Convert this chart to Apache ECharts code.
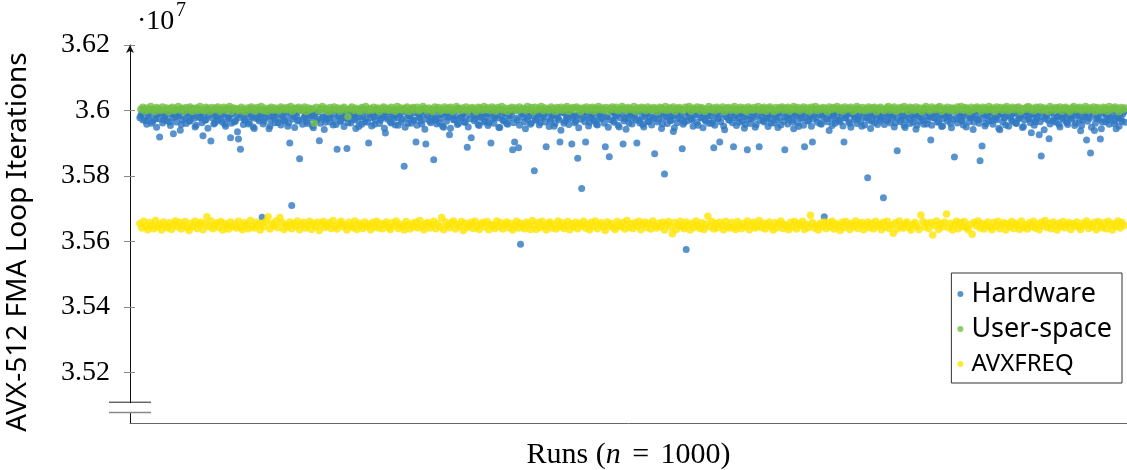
<!DOCTYPE html>
<html>
<head>
<meta charset="utf-8">
<script src="https://cdn.jsdelivr.net/npm/echarts@6/dist/echarts.min.js"></script>
<style>
  html, body { margin: 0; background: #fff; }
  #chart { width: 1127px; height: 470px; }
</style>
</head>
<body>
<div id="chart"></div>
<script>
// loop iterations per run, in thousands (36003 = 3.6003e7)
// Hardware, odd runs 1, 3, 5, ...
const hardwareOdd = [
  35978,35992,36003,35969,35985,35998,35961,36004,35974,35989,35919,35996,35972,35983,36001,35965,35990,35929,35980,35999,
  35987,35957,36002,35976,35993,35968,36005,35984,35950,35997,35979,35991,35923,35970,36003,35986,35907,35995,35962,35981,
  35999,35973,35988,35958,36004,35977,35917,35992,35966,35985,35913,35882,35998,35971,35990,35959,36002,35980,35945,35994,
  35975,35989,35674,35967,36001,35983,35953,35996,35978,35991,35963,36004,35986,35970,35998,35952,35901,35710,35982,35993,
  35968,35853,36000,35976,35989,35960,35997,35984,35947,35992,35973,35908,36003,35981,35964,35995,35977,35988,35956,36001,
  35882,35985,35969,35994,35979,35884,35999,35962,35987,35974,35991,35951,36004,35982,35966,35996,35901,35978,35990,35958,
  36002,35984,35971,35993,35946,35980,35997,35965,35988,35976,36000,35955,35986,35973,35830,35995,35961,35983,36003,35970,
  35904,35992,35978,35959,35998,35898,35985,35967,35990,35850,35975,36001,35963,35987,35949,35994,35980,35926,35996,35972,
  35983,35957,36004,35977,35991,35965,35888,35999,35917,35986,35974,35993,35954,35981,36002,35968,35989,35962,35901,35995,
  35979,35987,35948,36000,35971,35992,35960,35984,35997,35880,35904,35976,35886,35592,35990,35966,36003,35982,35958,35994,
  35816,35973,35988,35963,35999,35980,35889,35992,35969,35985,35952,36001,35977,35904,35995,35961,35987,35974,35998,35898,
  35983,35967,35854,35990,35762,35979,35904,35996,35964,35986,35972,36004,35956,35989,35976,35993,35889,35981,35859,35997,
  35968,35984,35992,35950,36002,35898,35975,35988,35962,35995,35979,35986,35901,35970,35999,35957,35983,35991,35966,36003,
  35978,35868,35987,35973,35994,35959,35806,35982,35996,35969,35985,35947,36001,35976,35990,35883,35964,35576,35993,35980,
  35972,35998,35986,35955,36004,35979,35991,35967,35984,35995,35961,35886,35988,35975,35904,35999,35953,35982,35993,35970,
  35987,35889,35978,36002,35964,35990,35981,35958,35880,35996,35974,35985,35949,36000,35889,35983,35969,35992,35977,35988,
  35962,35997,35980,35971,35994,35956,36003,35880,35986,35973,35990,35965,35998,35982,35951,35988,35976,35889,35995,35968,
  35984,35904,35992,35979,36001,35960,35987,35676,35974,35996,35983,35954,35990,35970,35999,35966,35985,35904,35977,35993,
  35961,35989,35981,36004,35973,35986,35952,35995,35978,35795,35991,35967,35984,35998,35957,35982,35975,35734,35993,35969,
  35988,36002,35980,35963,35877,35996,35972,35985,35948,35991,35977,35999,35965,35986,35955,35983,35994,35971,36001,35959,
  35982,35910,35990,35976,35997,35966,35984,35953,35992,35979,35987,35961,36003,35858,35974,35995,35981,35968,35989,35950,
  35996,35978,35985,35964,35999,35972,35847,35892,35988,35960,35994,35982,35969,36002,35976,35987,35941,35991,35979,35956,
  35997,35984,35970,35993,35962,36000,35977,35989,35951,35985,35996,35973,35932,35990,35966,35982,35926,35861,35998,35975,
  35987,35914,35993,35968,36004,35980,35958,35991,35974,35986,35963,35999,35978,35992,35954,35984,35995,35938,35970,35988,
  35910,35981,35870,35996,35939,35976,35989,35913,35965,35993,35982,35972,36001,35985,35960,35944,35978,35990,35967,35997
]
// Hardware, even runs 2, 4, 6, ...
const hardwareEven = [
  35985,35971,35996,35958,35979,36002,35967,35988,35949,35975,35993,35962,35981,35969,35999,35954,35977,35990,35965,35983,35940,35972,35997,35960,35986,
  35968,35991,35976,35955,36003,35980,35963,35987,35972,35946,35994,35978,35959,35984,35970,36000,35966,35989,35952,35974,35982,35961,35998,35969,35935,
  35979,35988,35957,35973,35995,35964,35984,35950,35976,36001,35968,35986,35959,35978,35992,35944,35971,35983,35963,35997,35975,35956,35989,35967,35980,
  35962,35993,35974,35948,35985,35970,36004,35958,35981,35966,35990,35977,35953,35987,35969,35996,35961,35979,35942,35973,35988,35965,35999,35976,35957,
  35984,35967,35991,35951,35978,35963,35995,35972,35986,35945,35969,35982,35958,36002,35975,35964,35989,35953,35980,35970,35994,35960,35977,35987,35931,
  35973,35996,35962,35983,35956,35979,35990,35966,36000,35949,35976,35985,35961,35971,35993,35955,35981,35968,35987,35943,35974,35998,35963,35982,35970,
  35959,35988,35976,35952,35994,35967,35980,35946,35985,35972,36003,35960,35978,35991,35964,35983,35950,35975,35996,35969,35986,35957,35979,35992,35965,
  35981,35954,35990,35973,35961,35997,35977,35948,35984,35968,35993,35958,35976,35987,35963,36001,35971,35955,35989,35980,35944,35974,35995,35962,35983,
  35970,35992,35956,35978,35986,35965,35999,35951,35975,35988,35960,35982,35972,35940,35994,35967,35979,35957,35990,35976,35963,35985,35947,35973,35997,
  35966,35984,35953,35977,35991,35969,35958,35987,35974,36002,35961,35980,35949,35972,35995,35964,35983,35955,35978,35989,35968,35943,35976,35993,35959,
  35986,35971,35997,35962,35979,35950,35990,35967,35983,35956,35974,36000,35965,35988,35945,35977,35992,35960,35981,35970,35936,35985,35963,35996,35973,
  35958,35982,35968,35994,35975,35952,35987,35964,35999,35978,35947,35971,35990,35961,35984,35969,35955,35993,35976,35966,35989,35941,35980,35972,35998,
  35963,35985,35954,35977,35991,35968,35946,35983,35974,35960,35995,35979,35957,35988,35970,36003,35965,35982,35951,35975,35992,35962,35986,35948,35978,
  35994,35967,35980,35959,35988,35972,35944,35985,35963,35997,35976,35955,35990,35969,35981,35952,35974,36001,35964,35987,35958,35979,35993,35966,35939,
  35975,35989,35961,35983,35970,35996,35953,35978,35986,35965,35949,35992,35973,35960,35984,35968,35999,35956,35980,35971,35945,35988,35963,35977,35994,
  35969,35982,35957,35991,35974,35962,35987,35950,35979,35995,35966,35983,35954,35972,36000,35960,35985,35976,35943,35989,35967,35980,35958,35993,35971,
  35984,35955,35978,35997,35964,35986,35951,35975,35990,35968,35981,35947,35973,35994,35962,35988,35970,35956,35983,36002,35966,35979,35942,35987,35974,
  35961,35992,35976,35953,35985,35969,35998,35958,35980,35972,35946,35989,35965,35977,35995,35952,35982,35967,35991,35960,35975,35987,35948,35971,35996,
  35978,35963,35988,35955,35974,35993,35966,35981,35941,35986,35970,35959,35997,35976,35964,35984,35950,35979,35990,35968,35957,35983,35973,35999,35962,
  35987,35970,35954,35982,35995,35967,35976,35949,35989,35961,35980,35973,35944,35992,35965,35985,35958,35977,36001,35969,35983,35952,35975,35990,35964
]
// User-space, runs 2, 4, 6, ...
const userSpace = [
  36004,36010,35998,36007,36001,36012,36003,35997,36009,36005,36000,36011,36002,36008,35996,36006,36010,35999,36004,36012,36001,36007,35998,36009,36003,
  36011,35997,36005,36008,36000,36012,36003,35999,36010,36006,35996,36009,36002,36007,36011,35998,36004,36010,36001,36006,36012,35997,36008,36003,36005,
  35999,36010,36004,35996,36008,36002,36011,36006,35998,36009,36003,36012,36000,36007,35997,36005,36010,36001,36008,36004,35999,36011,36006,36002,36009,
  36003,36012,35998,36007,36005,36010,36000,36004,36011,35997,36008,36002,36006,35961,36010,35999,36005,36012,36003,36007,35996,36009,36001,36011,36004,
  36008,35998,36006,36010,36002,35982,36005,36011,36000,36007,36003,35997,36009,36004,36012,35999,36006,36001,36010,36003,36008,35996,36005,36011,36002,
  36007,36000,36010,36004,35998,36012,36003,36008,36001,36006,36011,35997,36005,36009,36002,36010,35999,36004,36012,36006,36000,36008,36003,35996,36011,
  36005,36009,35998,36004,36011,36001,36007,36010,35997,36003,36012,36006,36000,36008,36002,36011,35999,36005,36009,36004,35996,36010,36007,36001,36012,
  36003,36008,36000,36011,36006,35998,36009,36004,36012,36001,36007,35997,36005,36010,36002,36008,35999,36011,36004,36006,36000,36012,36003,36009,35996,
  36010,36002,36006,36012,35999,36008,36004,36001,36011,36005,35997,36009,36003,36010,36000,36007,36012,35998,36005,36009,36002,36011,36006,35996,36008,
  36004,36011,36000,36007,36010,35998,36005,36012,36002,36008,36001,36009,35997,36006,36011,36003,36010,35999,36004,36012,36007,36000,36009,36005,36002,
  36012,35997,36008,36003,36010,36006,35999,36011,36004,36001,36009,36005,35996,36010,36007,36002,36012,36000,36008,36004,36011,35998,36006,36009,36003,
  36000,36010,36005,36012,35998,36007,36003,36011,36001,36009,36006,35997,36004,36012,36002,36008,35999,36010,36005,36003,36011,35996,36007,36009,36001,
  36006,36012,35999,36004,36010,36002,36008,35997,36011,36005,36001,36009,36003,36012,36000,36007,36010,35998,36006,36011,36004,35996,36009,36002,36008,
  36011,36001,36007,36010,35998,36005,36012,36003,36009,35999,36006,36011,36002,36008,35997,36010,36004,36012,36000,36007,36003,36009,36005,35996,36011,
  36002,36009,36005,36012,36000,36008,35998,36011,36004,36006,36010,35997,36003,36012,36007,36001,36009,35999,36005,36011,36002,36008,36010,35996,36006,
  36010,36003,35999,36008,36012,36001,36006,36011,35997,36004,36009,36002,36012,36005,35998,36010,36007,36000,36011,36003,36008,35996,36006,36012,36004,
  35999,36011,36005,36002,36009,36012,35997,36007,36003,36010,36000,36008,36006,35998,36011,36004,36012,36001,36009,36005,35996,36010,36002,36007,36011,
  36005,35998,36010,36006,36001,36012,36003,36008,35997,36011,36004,36009,36000,36007,36012,35999,36005,36010,36002,36008,36011,35996,36006,36003,36009,
  36012,36002,36007,35999,36010,36005,36011,36000,36008,36004,35997,36012,36006,36001,36009,36003,36011,35998,36007,36010,36004,35996,36008,36012,36002,
  36006,36010,35999,36005,36012,36001,36008,36003,36011,35997,36009,36004,36000,36010,36006,35998,36012,36002,36007,36011,36005,35996,36009,36003,36008
]
// AVXFREQ, runs 1, 3, 5, ...
const avxfreq = [
  35655,35641,35662,35646,35636,35658,35649,35639,35664,35644,35653,35635,35660,35648,35642,35657,35637,35651,35663,35645,35659,35638,35650,35661,35643,
  35634,35656,35647,35662,35640,35652,35659,35636,35654,35676,35645,35663,35639,35650,35657,35643,35661,35635,35655,35648,35638,35660,35646,35653,35641,
  35662,35644,35636,35657,35650,35639,35664,35647,35641,35659,35652,35635,35656,35645,35661,35676,35638,35654,35648,35663,35642,35673,35658,35637,35651,
  35644,35660,35639,35655,35647,35663,35636,35652,35658,35641,35649,35662,35637,35656,35645,35659,35634,35653,35661,35643,35650,35657,35640,35664,35646,
  35638,35654,35662,35645,35651,35635,35659,35648,35642,35663,35637,35656,35649,35640,35660,35646,35653,35636,35658,35644,35662,35641,35655,35639,35652,
  35660,35643,35637,35657,35648,35663,35640,35653,35646,35635,35661,35650,35638,35656,35644,35659,35642,35664,35647,35636,35654,35658,35641,35651,35662,
  35639,35655,35645,35673,35636,35660,35649,35642,35657,35663,35638,35652,35646,35661,35634,35656,35643,35650,35659,35640,35662,35647,35637,35654,35658,
  35644,35661,35636,35653,35649,35640,35663,35645,35657,35638,35651,35660,35642,35655,35635,35648,35662,35641,35656,35646,35639,35659,35652,35637,35664,
  35650,35637,35658,35643,35662,35647,35635,35655,35660,35641,35652,35638,35663,35645,35657,35640,35649,35661,35636,35654,35644,35659,35639,35656,35648,
  35662,35641,35653,35636,35659,35646,35663,35639,35651,35657,35644,35634,35660,35648,35655,35642,35637,35661,35650,35645,35658,35638,35664,35643,35654,
  35640,35657,35647,35662,35636,35652,35660,35643,35655,35638,35663,35649,35641,35656,35645,35659,35635,35653,35661,35644,35624,35658,35637,35650,35662,
  35646,35639,35660,35651,35635,35656,35643,35663,35648,35640,35657,35637,35653,35677,35645,35661,35638,35655,35642,35659,35650,35636,35662,35647,35641,
  35658,35644,35637,35661,35650,35639,35655,35646,35663,35636,35652,35659,35641,35648,35664,35643,35656,35638,35651,35660,35645,35635,35657,35642,35654,
  35663,35640,35652,35647,35636,35659,35644,35661,35638,35655,35649,35662,35637,35653,35643,35680,35658,35641,35650,35635,35656,35646,35660,35639,35657,
  35645,35662,35638,35654,35648,35634,35659,35643,35661,35651,35637,35656,35646,35663,35640,35653,35658,35636,35649,35660,35642,35655,35639,35662,35647,
  35653,35636,35659,35644,35662,35640,35650,35625,35657,35638,35663,35646,35641,35655,35660,35643,35635,35652,35658,35647,35637,35681,35661,35644,35656,
  35640,35658,35620,35649,35663,35637,35654,35645,35660,35684,35642,35656,35635,35651,35662,35639,35657,35646,35661,35643,35636,35653,35622,35659,35648,
  35663,35641,35655,35638,35650,35660,35644,35636,35658,35647,35662,35639,35652,35657,35635,35654,35645,35661,35640,35656,35649,35637,35663,35643,35651,
  35638,35657,35646,35662,35641,35653,35636,35659,35648,35664,35643,35655,35639,35660,35650,35635,35656,35645,35661,35642,35652,35658,35637,35654,35647,
  35660,35644,35637,35656,35650,35663,35640,35653,35645,35659,35636,35661,35648,35642,35657,35639,35662,35651,35635,35655,35646,35663,35641,35658,35649
]
const yTicks = [3.52, 3.54, 3.56, 3.58, 3.6, 3.62]
const seriesNames = ['Hardware', 'User-space', 'AVXFREQ']
const colors = ['#2f78c2', '#72bf44', '#ffe500']

const SERIF = '"Liberation Serif", serif'
const SANS = '"Noto Sans", sans-serif'
const Y_MIN = 3.5046
const Y_MAX = 3.62
// where the y axis is cut (the double line near the bottom)
const BREAK_TOP = 3.51095
const BREAK_BOTTOM = 3.50777

function toPoints(values, first, step) {
  return values.map((v, i) => [first + i * step, v / 10000])
}

const chart = echarts.init(document.getElementById('chart'))

const option = {
  animation: false,
  color: colors,
  grid: { left: 130, right: 0, top: 45, bottom: 47, outerBoundsMode: 'none', containLabel: false },
  xAxis: {
    type: 'value',
    min: -9,
    max: 1002,
    name: '{t|Runs (}{i|n}{e| = }{t|1000)}',
    nameLocation: 'middle',
    nameGap: 17,
    nameTextStyle: {
      rich: {
        t: { fontFamily: SERIF, fontSize: 30, color: '#000' },
        i: { fontFamily: SERIF, fontSize: 30, fontStyle: 'italic', color: '#000' },
        e: { fontFamily: SERIF, fontSize: 30, color: '#000', padding: [0, 4, 0, 4] }
      }
    },
    axisLine: { show: true, onZero: false, lineStyle: { color: '#666', width: 1 } },
    axisTick: { show: false },
    axisLabel: { show: false },
    splitLine: { show: false }
  },
  yAxis: [
    {
      type: 'value',
      min: Y_MIN,
      max: Y_MAX,
      name: 'AVX-512 FMA Loop Iterations',
      nameLocation: 'middle',
      nameGap: 98,
      nameTextStyle: { fontFamily: SANS, fontSize: 28, color: '#000', padding: [0, 16, 0, 0] },
      axisLine: {
        show: true,
        onZero: false,
        lineStyle: { color: '#111', width: 1 },
        symbol: ['none', 'arrow'],
        symbolSize: [6, 8]
      },
      axisTick: {
        show: true,
        length: 6,
        customValues: yTicks,
        lineStyle: { color: '#888' }
      },
      axisLabel: {
        customValues: yTicks,
        margin: 20,
        fontFamily: SERIF,
        fontSize: 28,
        color: '#000',
        formatter: v => String(+v.toFixed(2))
      },
      splitLine: { show: false }
    },
    {
      // second copy of the axis, only for the inner half of the ticks
      type: 'value',
      min: Y_MIN,
      max: Y_MAX,
      position: 'left',
      axisLine: { show: false, onZero: false },
      axisTick: {
        show: true,
        inside: true,
        length: 5,
        customValues: yTicks,
        lineStyle: { color: '#888' }
      },
      axisLabel: { show: false },
      splitLine: { show: false }
    }
  ],
  legend: {
    data: seriesNames,
    orient: 'vertical',
    right: 5,
    top: 273,
    backgroundColor: '#fff',
    borderColor: '#333',
    borderWidth: 1,
    borderRadius: 0,
    padding: [6, 10, 4, 6],
    itemGap: 5,
    itemWidth: 6,
    itemHeight: 6,
    icon: 'circle',
    textStyle: {
      fontFamily: SANS,
      fontSize: 27,
      lineHeight: 30,
      color: '#000',
      padding: [0, 0, 0, 3],
      rich: {
        sc: { fontFamily: SANS, fontSize: 24, lineHeight: 30, color: '#000' }
      }
    },
    formatter: name => name === 'AVXFREQ' ? '{sc|AVXFREQ}' : name
  },
  series: [
    {
      name: 'Hardware',
      type: 'scatter',
      symbolSize: 7,
      data: toPoints(hardwareOdd, 1, 2).concat(toPoints(hardwareEven, 2, 2))
    },
    {
      name: 'User-space',
      type: 'scatter',
      symbolSize: 7.5,
      data: toPoints(userSpace, 2, 2)
    },
    {
      name: 'AVXFREQ',
      type: 'scatter',
      symbolSize: 7.5,
      data: toPoints(avxfreq, 1, 2)
    }
  ]
}

chart.setOption(option)

// axis cut mark and the 10^7 multiplier
const axisX = chart.convertToPixel({ xAxisIndex: 0 }, -9)
const yCutTop = chart.convertToPixel({ yAxisIndex: 0 }, BREAK_TOP)
const yCutBottom = chart.convertToPixel({ yAxisIndex: 0 }, BREAK_BOTTOM)
const yTop = chart.convertToPixel({ yAxisIndex: 0 }, Y_MAX)

chart.setOption({
  graphic: [
    {
      type: 'rect',
      shape: { x: axisX - 3, y: yCutTop + 1, width: 6, height: yCutBottom - yCutTop - 1.5 },
      style: { fill: '#fff' },
      z: 100
    },
    {
      type: 'line',
      shape: { x1: axisX - 21, y1: yCutTop, x2: axisX + 21, y2: yCutTop },
      style: { stroke: '#222', lineWidth: 1 },
      z: 101
    },
    {
      type: 'line',
      shape: { x1: axisX - 21, y1: yCutBottom, x2: axisX + 21, y2: yCutBottom },
      style: { stroke: '#888', lineWidth: 1.5 },
      z: 101
    },
    {
      type: 'text',
      left: axisX + 7,
      top: yTop - 37,
      style: { text: '·10', fontFamily: SERIF, fontSize: 28, fill: '#000' },
      z: 101
    },
    {
      type: 'text',
      left: axisX + 46,
      top: yTop - 44,
      style: { text: '7', fontFamily: SERIF, fontSize: 20, fill: '#000' },
      z: 101
    }
  ]
})
</script>
</body>
</html>
